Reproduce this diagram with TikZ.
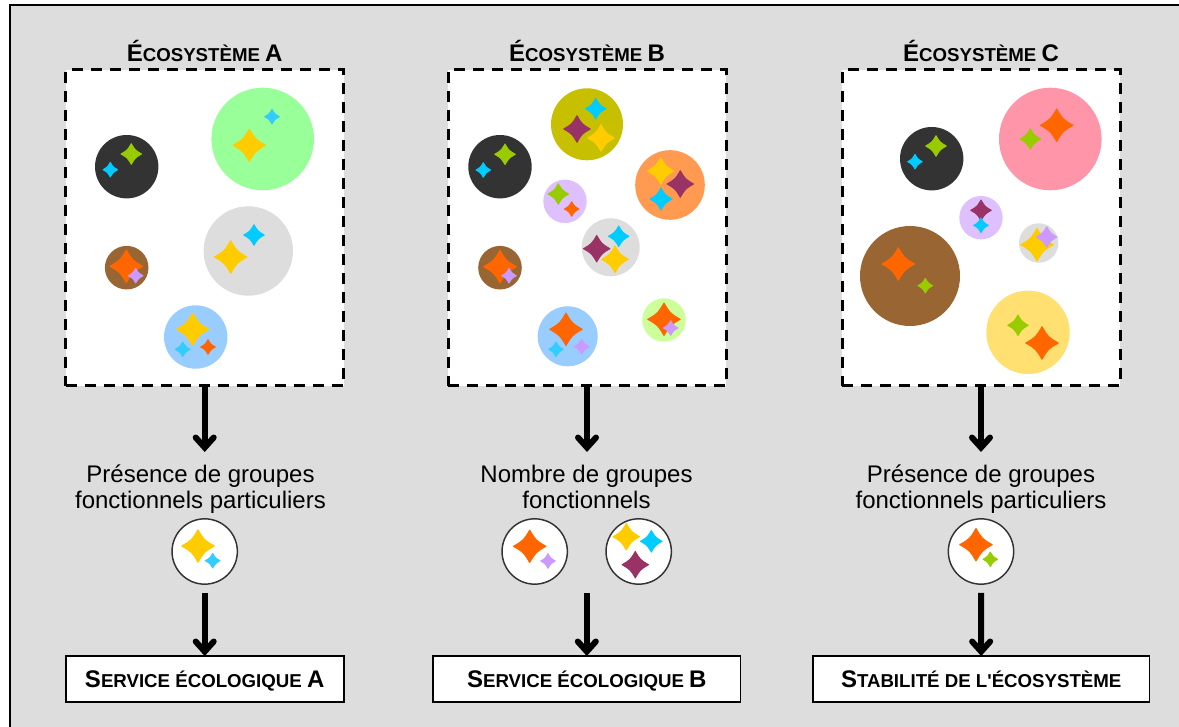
\documentclass[tikz,border=0pt]{standalone}
\usepackage{fontspec}
\setmainfont{Liberation Sans}
\newfontfamily\plainf{Liberation Sans}
\usetikzlibrary{arrows.meta}
\definecolor{cYel}{HTML}{FFCC00}
\definecolor{cGrn}{HTML}{99CC00}
\definecolor{cCya}{HTML}{00CCFF}
\definecolor{cCyb}{HTML}{33CCFF}
\definecolor{cOra}{HTML}{FF6600}
\definecolor{cPlm}{HTML}{993366}
\definecolor{cLil}{HTML}{CC99FF}
\definecolor{bDrk}{HTML}{333333}
\definecolor{bLgr}{HTML}{99FF99}
\definecolor{bGry}{HTML}{DDDDDD}
\definecolor{bBrn}{HTML}{996633}
\definecolor{bBlu}{HTML}{99CCFF}
\definecolor{bOli}{HTML}{C6C000}
\definecolor{bOra}{HTML}{FF9A50}
\definecolor{bLil}{HTML}{DFC0FF}
\definecolor{bLim}{HTML}{CCFF99}
\definecolor{bPnk}{HTML}{FF95A8}
\definecolor{bYel}{HTML}{FFE070}
\newcommand{\spk}[4]{\pgfmathsetmacro\rr{#3-0.7}\pgfmathsetmacro\cc{0.37*\rr}%
  \path[shift={(#1,#2)},fill=#4,draw=#4,line width=0.7pt,line join=round] (\rr,0) .. controls (\cc,\cc) and (\cc,\cc) .. (0,\rr) .. controls (-\cc,\cc) and (-\cc,\cc) .. (-\rr,0) .. controls (-\cc,-\cc) and (-\cc,-\cc) .. (0,-\rr) .. controls (\cc,-\cc) and (\cc,-\cc) .. cycle;}
\newcommand{\blob}[4]{\fill[#4] (#1,#2) circle[radius=#3*0.75pt];}
\newcommand{\bc}[1]{{\fontsize{18}{18}\selectfont #1}}
\tikzset{
  x=0.75pt,y=-0.75pt,
  ecobox/.style={draw=black,fill=white,line width=2.25pt,dash pattern=on 8.4pt off 5.85pt,minimum width=208.5pt,minimum height=237pt,inner sep=0pt,outer sep=0pt},
  eco title/.style={font=\bfseries\fontsize{14}{16}\selectfont,inner sep=0pt,anchor=base},
  body/.style={align=center,font=\fontsize{18}{19.1}\selectfont,inner sep=0pt},
  keycirc/.style={circle,draw=bDrk,fill=white,line width=1.1pt,minimum size=49pt,inner sep=0pt,outer sep=0pt},
  outbox/.style={draw=black,fill=white,line width=1.4pt,minimum height=34.5pt,inner sep=0pt,outer sep=0pt,text height=15pt,text depth=2.4pt,font=\bfseries\fontsize{14}{16}\selectfont},
  flow/.style={draw=black,line width=4.5pt,-{Straight Barb[line cap=round,line join=miter,length=7.5pt,width=13.5pt]}},
}
\begin{document}
\begin{tikzpicture}
\useasboundingbox (0,0) rectangle (1179,727);
\fill[white] (0,0) rectangle (1179,727);
\fill[bGry] (10,5) rectangle (1179,727);
\draw[black,line width=1.5pt] (10,727) -- (10,5) -- (1179,5);
% boxes
\node[ecobox] (boxA) at (204.7,228) {};
\node[ecobox] (boxB) at (587,228) {};
\node[ecobox] (boxC) at (981,228) {};
\node[eco title] (titA) at (204.7,61.5) {\bc{É}COSYSTÈME \bc{A}};
\node[eco title] (titB) at (587,61.5) {\bc{É}COSYSTÈME \bc{B}};
\node[eco title] (titC) at (981,61.5) {\bc{É}COSYSTÈME \bc{C}};
% Ecosystem A
\blob{126.7}{166.7}{31.7}{bDrk}\spk{131.3}{154}{11}{cGrn}\spk{110.3}{169.7}{8}{cCya}
\blob{262.7}{139}{51.3}{bLgr}\spk{249.3}{145.3}{17}{cYel}\spk{272}{116.7}{8}{cCyb}
\blob{248.3}{251}{44.7}{bGry}\spk{230.7}{257}{17}{cYel}\spk{254}{235}{11}{cCya}
\blob{126.7}{267.7}{21.8}{bBrn}\spk{126.3}{266.3}{17}{cOra}\spk{135.7}{275.7}{8}{cLil}
\blob{195.7}{337}{31.7}{bBlu}\spk{192.7}{329.3}{17}{cYel}\spk{182.7}{349.3}{8}{cCyb}\spk{208}{347}{8}{cOra}
% Ecosystem B
\blob{500}{166.7}{31.7}{bDrk}\spk{505}{154.3}{11}{cGrn}\spk{483.3}{170}{8}{cCya}
\blob{587}{124.3}{36}{bOli}\spk{595.7}{108.7}{11}{cCya}\spk{577}{129}{14}{cPlm}\spk{601}{138}{14}{cYel}
\blob{670}{185}{34.8}{bOra}\spk{660.7}{171}{14}{cYel}\spk{680.3}{184}{14}{cPlm}\spk{661}{199}{11.7}{cCya}
\blob{565}{201.3}{21.7}{bLil}\spk{558.3}{194}{11}{cGrn}\spk{571.7}{209}{8}{cOra}
\blob{610.7}{247.3}{29}{bGry}\spk{596.7}{248.7}{14}{cPlm}\spk{618.7}{236.3}{11}{cCya}\spk{615}{259.3}{14}{cYel}
\blob{500}{267.7}{21.8}{bBrn}\spk{500}{266.7}{17}{cOra}\spk{509}{275.7}{8}{cLil}
\blob{567.7}{336.3}{30}{bBlu}\spk{566}{329.3}{17}{cOra}\spk{556}{349.3}{8}{cCyb}\spk{581.7}{346.7}{8}{cLil}
\blob{664}{320}{21.7}{bLim}\spk{664}{319.3}{17}{cOra}\spk{670.7}{328}{8}{cLil}
% Ecosystem C
\blob{931.7}{158.7}{31.7}{bDrk}\spk{936}{146}{11}{cGrn}\spk{915}{161.7}{8}{cCya}
\blob{1050.3}{139}{51.3}{bPnk}\spk{1056.7}{125.3}{17}{cOra}\spk{1030.3}{139}{11}{cGrn}
\blob{981}{217.7}{21.7}{bLil}\spk{981}{210.3}{11}{cPlm}\spk{981}{225.3}{8}{cCya}
\blob{1038.7}{243}{19.7}{bGry}\spk{1037}{244.7}{17}{cYel}\spk{1046.7}{237}{11}{cLil}
\blob{910}{276}{50}{bBrn}\spk{898.3}{264}{17}{cOra}\spk{925.3}{285.7}{8}{cGrn}
\blob{1028}{332.3}{41.7}{bYel}\spk{1018}{325.3}{11}{cGrn}\spk{1042}{343}{17}{cOra}
% Text
\node[body] (txtA) at (200.5,490.3) {\strut Présence de groupes\\\strut fonctionnels particuliers};
\node[body] (txtB) at (586.5,490.3) {\strut Nombre de groupes\\\strut fonctionnels};
\node[body] (txtC) at (981,490.3) {\strut Présence de groupes\\\strut fonctionnels particuliers};
% Key circles
\node[keycirc] (kA) at (204.7,551.5) {};
\spk{198}{546}{17}{cYel}\spk{212.7}{560.7}{8}{cCyb}
\node[keycirc] (kB1) at (534.7,551.5) {};
\spk{529.7}{546.3}{17}{cOra}\spk{548}{561}{8}{cLil}
\node[keycirc] (kB2) at (638.7,551.5) {};
\spk{626.3}{536.7}{14}{cYel}\spk{651.3}{541.3}{11.5}{cCya}\spk{635.3}{564.7}{14}{cPlm}
\node[keycirc] (kC) at (981,551.5) {};
\spk{976}{544.7}{17}{cOra}\spk{990.3}{559.3}{8}{cGrn}
% Outcome boxes
\node[outbox,minimum width=208.5pt] (outA) at (204.7,679) {\bc{S}ERVICE ÉCOLOGIQUE \bc{A}};
\node[outbox,minimum width=230.5pt] (outB) at (586.8,679) {\bc{S}ERVICE ÉCOLOGIQUE \bc{B}};
\node[outbox,minimum width=252.5pt] (outC) at (981.2,679) {\bc{S}TABILITÉ DE L{\plainf '}ÉCOSYSTÈME};
% Arrows
\coordinate (tipA) at (boxA.south |- 0,452);
\coordinate (tipB) at (boxB.south |- 0,452);
\coordinate (tipC) at (boxC.south |- 0,452);
\coordinate (startB) at (586.8,593);
\draw[flow] (boxA.south) -- (tipA);
\draw[flow] (boxB.south) -- (tipB);
\draw[flow] (boxC.south) -- (tipC);
\draw[flow,shorten <=6.5pt] (kA.south) -- (outA.north);
\draw[flow] (startB) -- (outB.north);
\draw[flow,shorten <=6.5pt] (kC.south) -- (outC.north);
\end{tikzpicture}
\end{document}
